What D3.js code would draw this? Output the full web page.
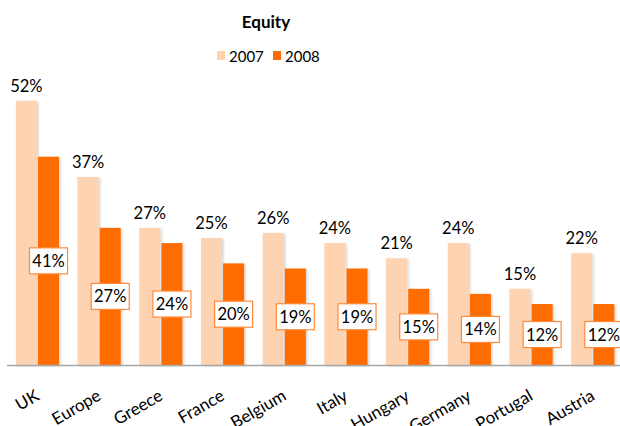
<!DOCTYPE html>
<html>
<head>
<meta charset="utf-8">
<script src="https://cdn.jsdelivr.net/npm/d3@7"></script>
<style>
	body { margin: 0; background: #fff; }
	text { font-family: Lato, "Open Sans", sans-serif; fill: #000; }
</style>
</head>
<body>
<svg id="chart" width="620" height="426"></svg>
<script>
var categories = ["UK", "Europe", "Greece", "France", "Belgium", "Italy", "Hungary", "Germany", "Portugal", "Austria"];
var series = ["2007", "2008"];
var values2007 = [52, 37, 27, 25, 26, 24, 21, 24, 15, 22];
var values2008 = [41, 27, 24, 20, 19, 19, 15, 14, 12, 12];

var colors = {"2007": "#FDD3B1", "2008": "#FF6D00"};

var svg = d3.select("#chart");

// shadow behind the bars
var defs = svg.append("defs");
var shadow = defs.append("filter").attr("id", "barShadow")
	.attr("x", "-20%").attr("y", "-5%").attr("width", "150%").attr("height", "115%");
shadow.append("feDropShadow")
	.attr("dx", 1.5).attr("dy", 1).attr("stdDeviation", 1)
	.attr("flood-color", "#000").attr("flood-opacity", 0.18);

var baseY = 365;

var x = d3.scaleBand()
	.domain(categories)
	.range([6.6, 623.6])
	.paddingInner(0.3)
	.paddingOuter(0.15);

var xSeries = d3.scaleBand()
	.domain(series)
	.range([0, x.bandwidth()])
	.paddingInner(0.05);

var y = d3.scaleLinear()
	.domain([0, 60])
	.range([baseY, baseY - 60 * 5.08]);

// title + legend
svg.append("text")
	.attr("x", 266).attr("y", 28)
	.attr("text-anchor", "middle")
	.style("font-size", "17px").style("font-weight", "bold")
	.text("Equity");

var legend = svg.append("g");
var legendX = [217, 273];
series.forEach(function (s, i) {
	legend.append("rect")
		.attr("x", legendX[i]).attr("y", 51)
		.attr("width", 8).attr("height", 9)
		.attr("fill", colors[s]);
	legend.append("text")
		.attr("x", legendX[i] + 12).attr("y", 61.5)
		.style("font-size", "15px")
		.text(s);
});

// bars
var aData = categories.map(function (c, i) {
	return {cat: c, v2007: values2007[i], v2008: values2008[i]};
});

var groups = svg.selectAll(".cat")
	.data(aData)
	.enter().append("g")
	.attr("class", "cat")
	.attr("transform", function (d) { return "translate(" + x(d.cat) + ",0)"; });

groups.append("rect")
	.attr("x", xSeries("2007"))
	.attr("y", function (d) { return y(d.v2007); })
	.attr("width", xSeries.bandwidth())
	.attr("height", function (d) { return baseY - y(d.v2007); })
	.attr("fill", colors["2007"])
	.attr("filter", "url(#barShadow)");

groups.append("rect")
	.attr("x", xSeries("2008"))
	.attr("y", function (d) { return y(d.v2008); })
	.attr("width", xSeries.bandwidth())
	.attr("height", function (d) { return baseY - y(d.v2008); })
	.attr("fill", colors["2008"])
	.attr("filter", "url(#barShadow)");

// axis line
svg.append("line")
	.attr("x1", 7).attr("x2", 620)
	.attr("y1", baseY + 0.5).attr("y2", baseY + 0.5)
	.attr("stroke", "#A6A6A6").attr("stroke-width", 1.3);

// 2007 labels above bars
groups.append("text")
	.attr("x", xSeries("2007") + xSeries.bandwidth() / 2)
	.attr("y", function (d) { return y(d.v2007) - 9; })
	.attr("text-anchor", "middle")
	.style("font-size", "16.5px")
	.text(function (d) { return d.v2007 + "%"; });

// 2008 labels in boxes at bar middle
var boxes = groups.append("g")
	.attr("transform", function (d) {
		var cx = xSeries("2008") + xSeries.bandwidth() / 2,
			cy = (y(d.v2008) + baseY) / 2;
		return "translate(" + cx + "," + cy + ")";
	});

boxes.append("rect")
	.attr("x", -19).attr("y", -13)
	.attr("width", 38).attr("height", 26)
	.attr("fill", "#fff")
	.attr("stroke", "#FF8A3A").attr("stroke-width", 1.2);

boxes.append("text")
	.attr("y", 6)
	.attr("text-anchor", "middle")
	.style("font-size", "16.5px")
	.text(function (d) { return d.v2008 + "%"; });

// category labels, rotated
svg.selectAll(".xlab")
	.data(categories)
	.enter().append("text")
	.attr("class", "xlab")
	.attr("text-anchor", "end")
	.attr("transform", function (d) {
		return "translate(" + (x(d) + x.bandwidth() / 2 + 3) + "," + 399 + ") rotate(-30)";
	})
	.style("font-size", "17px")
	.text(function (d) { return d; });
</script>
</body>
</html>
